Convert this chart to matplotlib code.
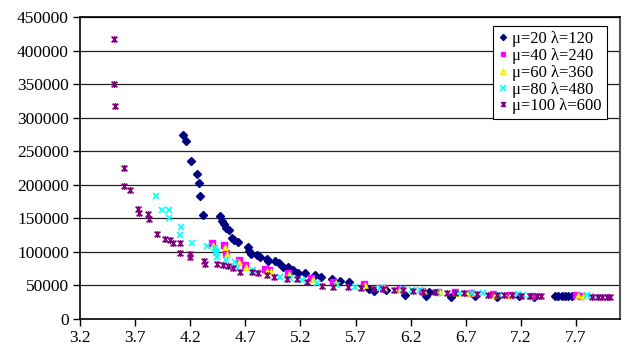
import matplotlib
matplotlib.use("Agg")
import matplotlib.pyplot as plt
from matplotlib.path import Path

plt.rcParams['font.family'] = ['Liberation Serif', 'DejaVu Serif']

# ---------------- data ----------------
labels = ["μ=20 λ=120", "μ=40 λ=240", "μ=60 λ=360", "μ=80 λ=480", "μ=100 λ=600"]

x20 = [4.135, 4.162, 4.21, 4.262, 4.277, 4.286, 4.316, 4.471, 4.492, 4.508, 4.525, 4.548,
       4.577, 4.593, 4.632, 4.720, 4.732, 4.756, 4.803, 4.833, 4.897, 4.909, 4.967, 5.006,
       5.045, 5.090, 5.130, 5.181, 5.242, 5.332, 5.384, 5.485, 5.559, 5.643, 5.825, 5.868,
       5.974, 6.149, 6.344, 6.367, 6.567, 6.78, 6.98, 7.18, 7.32,
       7.51, 7.54, 7.57, 7.60, 7.63, 7.66]
y20 = [273700, 265700, 235800, 215600, 203100, 182800, 155400, 153500, 146500, 142300, 136000, 131900,
       121100, 117400, 114700, 107000, 101800, 97300, 94900, 92800, 89800, 86000, 86400, 83000,
       78200, 77900, 73000, 69000, 68500, 66300, 62100, 59200, 56600, 55100, 45100, 42200,
       43200, 36500, 34700, 40200, 33500, 34000, 33500, 33800, 33500,
       34300, 34300, 34300, 34300, 34300, 34300]

x40 = [4.40, 4.51, 4.525, 4.64, 4.70, 4.875, 4.915, 5.085, 5.30, 5.50, 5.78, 5.95, 6.10,
       6.30, 6.45, 6.60, 6.75, 6.95, 7.10, 7.30, 7.70, 7.75]
y40 = [113500, 110000, 99000, 87500, 80000, 74000, 73000, 69000, 60500, 55000, 51500, 46500, 45000,
       42000, 40500, 39500, 39000, 37000, 35500, 35000, 36500, 35000]

x60 = [4.41, 4.516, 4.531, 4.646, 4.704, 4.894, 4.93, 5.10, 5.317, 5.52, 5.786, 5.96, 6.104,
       6.32, 6.47, 6.62, 6.71, 6.78, 6.97, 7.102, 7.28, 7.72, 7.76]
y60 = [111000, 107500, 96500, 85500, 77500, 71500, 71000, 67500, 59000, 54000, 50500, 45500, 44000,
       41000, 40000, 38500, 38300, 38000, 36500, 34500, 34800, 35500, 34300]

x80 = [3.887, 3.944, 4.008, 4.011, 4.114, 4.110, 4.219, 4.352, 4.428, 4.431, 4.434, 4.443,
       4.528, 4.604, 4.627, 4.770, 4.809, 5.015, 5.106, 5.212, 5.348, 5.53, 5.695, 5.922,
       6.134, 6.210, 6.285, 6.437, 6.648, 6.755, 6.86, 7.00, 7.17, 7.22, 7.28,
       7.80, 7.84, 7.87]
y80 = [183300, 162000, 162000, 150500, 136600, 124700, 113700, 108800, 106200, 101800, 97900, 92800,
       87500, 84900, 75500, 73000, 70500, 62100, 60600, 58100, 53200, 50700, 48100, 45700,
       44300, 43200, 43200, 40700, 38300, 38300, 38300, 36500, 36800, 35500, 34700,
       35800, 34500, 33200]

x100 = [3.506, 3.511, 3.520, 3.597, 3.602, 3.656, 3.724, 3.738, 3.817, 3.823, 3.899, 3.974,
        4.021, 4.041, 4.103, 4.106, 4.198, 4.201, 4.328, 4.337, 4.443, 4.500, 4.546, 4.586,
        4.652, 4.758, 4.811, 4.894, 4.960, 5.076, 5.166, 5.257, 5.393, 5.499, 5.635, 5.75,
        5.862, 5.952, 6.05, 6.134, 6.22, 6.315, 6.42, 6.528, 6.60, 6.68, 6.80, 6.90, 6.98,
        7.05, 7.12, 7.20, 7.28, 7.35, 7.38, 7.85, 7.90, 7.94, 7.98, 8.01]
y100 = [417600, 350600, 316900, 225400, 198600, 191800, 163400, 157500, 156000, 148600, 127100, 119200,
        117700, 113700, 113200, 98600, 97300, 91900, 86900, 82200, 81500, 80200, 78500, 75500,
        69300, 69300, 68100, 66000, 62100, 60000, 59100, 55600, 49600, 48100, 47200, 46500,
        45100, 44300, 43800, 43200, 42000, 40700, 40000, 39200, 38500, 38000, 37000, 36500, 36000,
        35800, 35500, 35000, 35000, 34500, 34200, 33500, 33200, 33000, 33000, 33000]

xticks = [3.2, 3.7, 4.2, 4.7, 5.2, 5.7, 6.2, 6.7, 7.2, 7.7]
yticks = [0, 50000, 100000, 150000, 200000, 250000, 300000, 350000, 400000, 450000]

# ---------------- figure ----------------
fig = plt.figure(figsize=(6.29, 3.46), dpi=100)
ax = fig.add_axes([80 / 629, 1 - 319 / 346, 540 / 629, 302 / 346])

star = Path([(-1, -1), (1, 1), (-1, 1), (1, -1), (0, -1.2), (0, 1.2)],
            [Path.MOVETO, Path.LINETO, Path.MOVETO, Path.LINETO, Path.MOVETO, Path.LINETO])

ax.plot(x20, y20, ls='none', marker='D', ms=3.8, color='#000080', mec='#000080', label=labels[0])
ax.plot(x40, y40, ls='none', marker='s', ms=4.2, color='#FF00FF', mec='#FF00FF', label=labels[1])
ax.plot(x60, y60, ls='none', marker='^', ms=5, color='#FFFF00', mec='#E6E600', mew=0.5, label=labels[2])
ax.plot(x80, y80, ls='none', marker='x', ms=5, color='#00FFFF', mew=1.2, label=labels[3])
ax.plot(x100, y100, ls='none', marker=star, ms=5, color='#800080', mew=1.2, label=labels[4])

ax.set_xlim(3.2, 8.1)
ax.set_ylim(0, 450000)
ax.set_xticks(xticks)
ax.set_xticklabels([f"{v:.1f}" for v in xticks])
ax.set_yticks(yticks)
ax.set_yticklabels([str(v) for v in yticks])

ax.grid(axis='y', color='#222222', lw=0.9)
ax.set_axisbelow(True)
ax.tick_params(axis='both', direction='out', length=5, width=1, colors='black',
               labelsize=12.5, pad=3)
for side in ['left', 'bottom', 'top']:
    ax.spines[side].set_color('black')
    ax.spines[side].set_linewidth(1.2)
ax.spines['right'].set_color('#555555')
ax.spines['right'].set_linewidth(1.5)

leg = ax.legend(loc='upper right', bbox_to_anchor=(527 / 540, 293 / 302), fontsize=12,
                frameon=True, fancybox=False, edgecolor='black', framealpha=1,
                handlelength=0.6, handletextpad=0.3, labelspacing=0.05,
                borderpad=0.3, borderaxespad=0, markerscale=0.8)
leg.get_frame().set_linewidth(0.8)

fig.savefig("out.png", dpi=100)
